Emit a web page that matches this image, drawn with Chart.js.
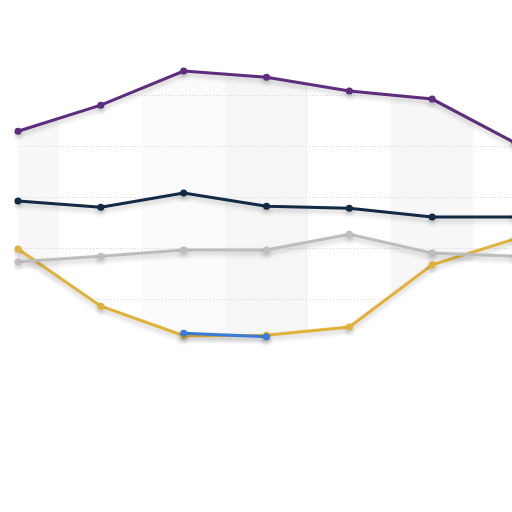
<!DOCTYPE html>
<html>
<head>
<meta charset="utf-8">
<script src="https://cdn.jsdelivr.net/npm/chart.js@4"></script>
<style>
  html, body { margin: 0; padding: 0; background: #fff; overflow: hidden; }
  #wrap { width: 530px; height: 512px; }
</style>
</head>
<body>
<div id="wrap"><canvas id="trendChart"></canvas></div>
<script>
// Chart data
const labels = ['1', '2', '3', '4', '5', '6', '7'];
const purpleValues = [82.9, 88.0, 94.7, 93.5, 90.8, 89.2, 80.6];
const navyValues   = [69.2, 68.0, 70.8, 68.2, 67.8, 66.1, 66.1];
const greyValues   = [57.3, 58.4, 59.6, 59.6, 62.7, 59.0, 58.4];
const yellowValues = [59.8, 48.6, 42.8, 42.9, 44.5, 56.7, 61.8];
const blueValues   = [null, null, 43.3, 42.6, null, null, null];
const yTicks = [40, 50, 60, 70, 80, 90, 100];
const bandShades = ['#f8f8f8', '#ffffff', '#fbfbfb', '#f6f6f6', '#ffffff', '#f7f7f7', '#ffffff'];

// Background bands + dotted grid, only between the outer lines
const envelopeBackground = {
    id: 'envelopeBackground',
    beforeDatasetsDraw(chart) {
        const ctx = chart.ctx;
        const x = chart.scales.x;
        const y = chart.scales.y;
        const top = chart.getDatasetMeta(1).data;
        const bottom = labels.map((_, i) => {
            let maxY = -Infinity;
            chart.data.datasets.forEach((ds, d) => {
                const v = ds.data[i];
                if (v !== null && v !== undefined) {
                    maxY = Math.max(maxY, chart.getDatasetMeta(d).data[i].y);
                }
            });
            return { x: x.getPixelForValue(i), y: maxY };
        });

        ctx.save();
        ctx.beginPath();
        top.forEach((p, i) => i === 0 ? ctx.moveTo(p.x, p.y) : ctx.lineTo(p.x, p.y));
        for (let i = bottom.length - 1; i >= 0; i--) ctx.lineTo(bottom[i].x, bottom[i].y);
        ctx.closePath();
        ctx.fillStyle = '#ffffff';
        ctx.fill();
        ctx.clip();

        const step = x.getPixelForValue(1) - x.getPixelForValue(0);
        labels.forEach((_, i) => {
            const cx = x.getPixelForValue(i);
            ctx.fillStyle = bandShades[i];
            ctx.fillRect(cx - step / 2, 0, step, chart.height);
        });

        ctx.strokeStyle = '#d6d6d6';
        ctx.lineWidth = 1;
        ctx.setLineDash([1, 2]);
        yTicks.forEach(t => {
            const py = Math.round(y.getPixelForValue(t)) + 0.5;
            ctx.beginPath();
            ctx.moveTo(0, py);
            ctx.lineTo(chart.width, py);
            ctx.stroke();
        });
        ctx.restore();
    }
};

// Soft shadow under each line
const lineShadow = {
    id: 'lineShadow',
    beforeDatasetDraw(chart) {
        const ctx = chart.ctx;
        ctx.save();
        ctx.shadowColor = 'rgba(0, 0, 0, 0.22)';
        ctx.shadowBlur = 5;
        ctx.shadowOffsetY = 3;
    },
    afterDatasetDraw(chart) {
        chart.ctx.restore();
    }
};

function series(data, color) {
    return {
        data: data,
        borderColor: color,
        backgroundColor: color,
        borderWidth: 3,
        pointRadius: 3.5,
        pointBorderWidth: 0,
        tension: 0,
        spanGaps: false,
        fill: false
    };
}

const ctx = document.getElementById('trendChart').getContext('2d');
new Chart(ctx, {
    type: 'line',
    data: {
        labels: labels,
        datasets: [
            series(blueValues, '#3a7bd5'),
            series(purpleValues, '#5e2d7e'),
            series(navyValues, '#132a45'),
            series(greyValues, '#bdbdbd'),
            series(yellowValues, '#e0b23a')
        ]
    },
    options: {
        responsive: true,
        maintainAspectRatio: false,
        animation: false,
        events: [],
        layout: {
            padding: { left: 18, top: 44, right: 15, bottom: 162 }
        },
        plugins: {
            legend: { display: false },
            tooltip: { enabled: false }
        },
        scales: {
            x: { display: false, offset: false },
            y: { display: false, min: 40, max: 100 }
        }
    },
    plugins: [envelopeBackground, lineShadow]
});
</script>
</body>
</html>
